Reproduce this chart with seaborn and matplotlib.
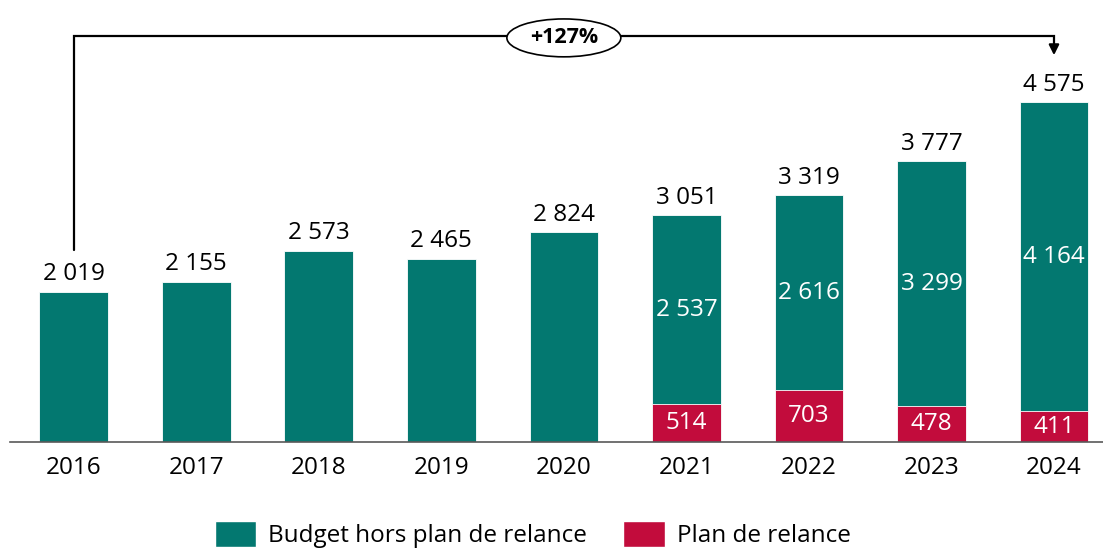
import numpy as np
import pandas as pd
import seaborn as sns
import matplotlib.pyplot as plt
from matplotlib.patches import Ellipse, Patch

# data
years = ["2016", "2017", "2018", "2019", "2020", "2021", "2022", "2023", "2024"]
budget_hors_plan = [2019, 2155, 2573, 2465, 2824, 2537, 2616, 3299, 4164]
plan_relance = [0, 0, 0, 0, 0, 514, 703, 478, 411]
growth_label = "+127%"

TEAL = "#037870"
RED = "#C20C3C"

sns.set_theme(style="white")
plt.rcParams['font.family'] = ['Open Sans', 'DejaVu Sans']
plt.rcParams['text.color'] = "black"

df = pd.DataFrame({"year": years, "hors": budget_hors_plan, "plan": plan_relance})
df["total"] = df["hors"] + df["plan"]

fig = plt.figure(figsize=(11.03, 5.54), dpi=100)
ax = fig.add_axes([10 / 1103, 112 / 554, 1 - 10 / 1103, 442 / 554])

# stacked bars: total in teal, plan de relance drawn over the bottom part
sns.barplot(data=df, x="year", y="total", color=TEAL, saturation=1, width=0.56, ax=ax)
sns.barplot(data=df, x="year", y="plan", color=RED, saturation=1, width=0.56, ax=ax)
for p in ax.patches:
    p.set_edgecolor("white")
    p.set_linewidth(0.6)

ax.set_xlim(-0.52, 8.4)
ax.set_ylim(0, 5950)

def fmt(v):
    return f"{v:,}".replace(",", " ")

for i, row in df.iterrows():
    ax.annotate(fmt(row["total"]), (i, row["total"]), xytext=(0, 4), textcoords="offset points",
                ha="center", va="bottom", fontsize=17.5, color="black")
    if row["plan"] > 0:
        ax.text(i, row["plan"] + row["hors"] / 2, fmt(row["hors"]), ha="center", va="center",
                fontsize=17.5, color="white")
        ax.text(i, row["plan"] / 2, fmt(row["plan"]), ha="center", va="center",
                fontsize=17.5, color="white")

# growth bracket 2016 -> 2024
y_line = 5465
ax.plot([0, 0, 8, 8], [2590, y_line, y_line, 5300], color="black", lw=1.6, solid_joinstyle="miter")
ax.annotate("", xy=(8, 5170), xytext=(8, 5320),
            arrowprops=dict(arrowstyle="-|>,head_width=0.25,head_length=0.5", color="black", lw=1.6))
ell = Ellipse((4, y_line - 25), width=0.93, height=510, facecolor="white", edgecolor="black", lw=1.2, zorder=3)
ax.add_patch(ell)
ax.text(4, y_line - 25, growth_label, ha="center", va="center", fontsize=15.5, fontweight="bold", zorder=4)

ax.set_xlabel("")
ax.set_ylabel("")
ax.set_yticks([])
ax.tick_params(axis="x", length=0, labelsize=17.5, pad=10, labelcolor="black")
for s in ["top", "right", "left"]:
    ax.spines[s].set_visible(False)
ax.spines["bottom"].set_color("#595959")
ax.spines["bottom"].set_linewidth(1.2)

handles = [Patch(facecolor=TEAL, label="Budget hors plan de relance"),
           Patch(facecolor=RED, label="Plan de relance")]
fig.legend(handles=handles, loc="center", bbox_to_anchor=(0.483, 0.035), ncol=2, frameon=False,
           fontsize=17.5, handlelength=1.7, handleheight=1.3, handletextpad=0.5, columnspacing=1.5)

fig.savefig("out.png", dpi=100)
